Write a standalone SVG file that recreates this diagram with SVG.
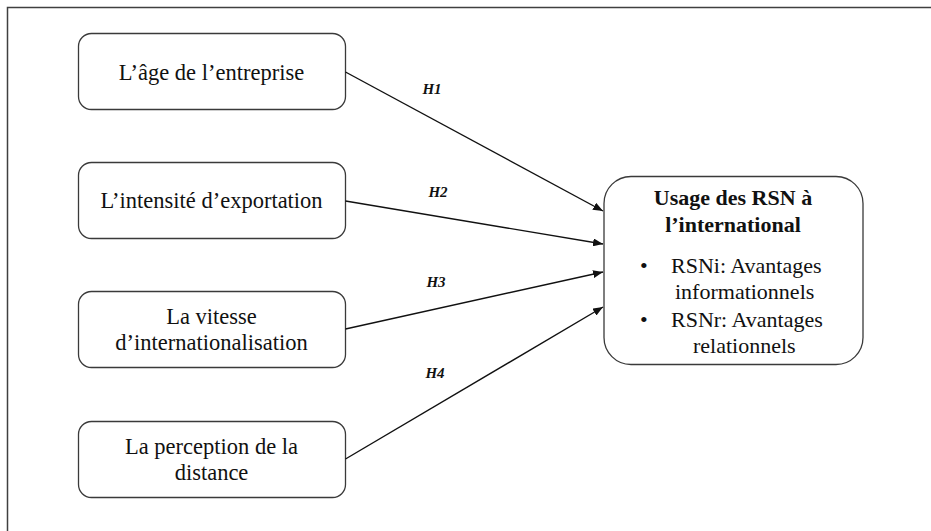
<svg xmlns="http://www.w3.org/2000/svg" width="931" height="531" viewBox="0 0 931 531">
<style>
.box{fill:#fff;stroke:#3a3a3a;stroke-width:1.3}
.t{font-family:"Liberation Serif","Times New Roman",serif;font-size:22.5px;fill:#111;text-anchor:middle}
.tr{font-family:"Liberation Serif","Times New Roman",serif;font-size:22px;fill:#111}
.tb{font-family:"Liberation Serif","Times New Roman",serif;font-size:22px;font-weight:bold;fill:#111;text-anchor:middle}
.h{font-family:"Liberation Serif","Times New Roman",serif;font-size:15px;font-weight:bold;font-style:italic;fill:#111;text-anchor:middle}
.c{stroke:#111;stroke-width:1.4;fill:none;marker-end:url(#arr)}
</style>
<defs>
<marker id="arr" viewBox="0 0 10 8" refX="10" refY="4" markerWidth="10" markerHeight="8" markerUnits="userSpaceOnUse" orient="auto">
<path d="M0,0 L10,4 L0,8 z" fill="#111"/>
</marker>
</defs>
<rect width="931" height="531" fill="#fff"/>
<path d="M7.5,531 V7.5 H931" fill="none" stroke="#404040" stroke-width="1.5"/>
<g id="n1">
<rect class="box" x="78.5" y="33.5" width="267" height="76" rx="13"/>
<text class="t" x="211.5" y="80">L’âge de l’entreprise</text>
</g>
<g id="n2">
<rect class="box" x="78.5" y="162.5" width="267" height="76" rx="13"/>
<text class="t" x="211.5" y="208">L’intensité d’exportation</text>
</g>
<g id="n3">
<rect class="box" x="78.5" y="291.5" width="267" height="76" rx="13"/>
<text class="t" x="211.5" y="324">La vitesse</text>
<text class="t" x="211.5" y="350">d’internationalisation</text>
</g>
<g id="n4">
<rect class="box" x="78.5" y="421.5" width="267" height="76" rx="13"/>
<text class="t" x="211.5" y="454">La perception de la</text>
<text class="t" x="211.5" y="480">distance</text>
</g>
<g id="target">
<rect class="box" x="604" y="176.5" width="259" height="188" rx="27"/>
<text class="tb" x="733" y="205">Usage des RSN à</text>
<text class="tb" x="733" y="232">l’international</text>
<text class="tr" x="640" y="273">•</text>
<text class="tr" x="671" y="273">RSNi: Avantages</text>
<text class="tr" x="675" y="299">informationnels</text>
<text class="tr" x="640" y="327">•</text>
<text class="tr" x="671" y="327">RSNr: Avantages</text>
<text class="tr" x="693" y="353">relationnels</text>
</g>
<g id="connectors">
<line class="c" x1="345.5" y1="72" x2="603" y2="211"/>
<line class="c" x1="345.5" y1="201" x2="603" y2="244"/>
<line class="c" x1="345.5" y1="329" x2="603" y2="272"/>
<line class="c" x1="345.5" y1="459" x2="603" y2="307"/>
<text class="h" x="432" y="94">H1</text>
<text class="h" x="438" y="197">H2</text>
<text class="h" x="436" y="287">H3</text>
<text class="h" x="435" y="378">H4</text>
</g>
</svg>
